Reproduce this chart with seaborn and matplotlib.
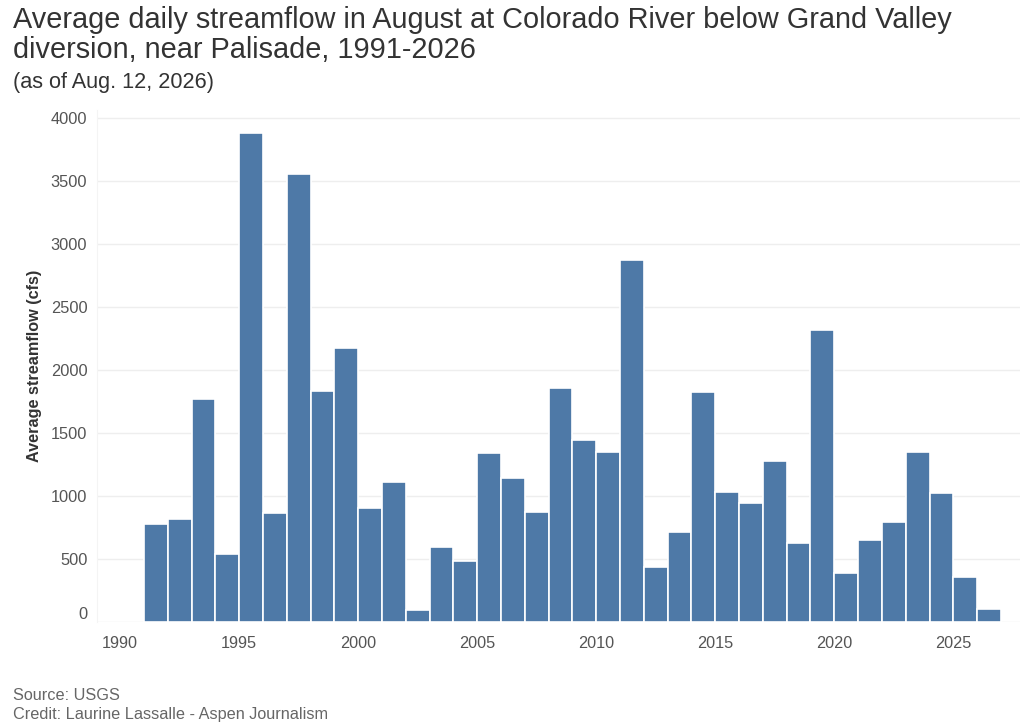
import pandas as pd
import matplotlib
matplotlib.use("Agg")
import matplotlib.pyplot as plt
import matplotlib.transforms as mtransforms
import seaborn as sns

# August average daily streamflow (cfs)
years = list(range(1991, 2027))
streamflow = [
    779, 813, 1771, 538, 3881, 864, 3555, 1833, 2173, 901,
    1113, 95, 595, 482, 1337, 1142, 875, 1856, 1445, 1346,
    2870, 439, 714, 1824, 1028, 943, 1280, 626, 2314, 388,
    649, 790, 1346, 1020, 354, 105,
]
x_ticks = [1990, 1995, 2000, 2005, 2010, 2015, 2020, 2025]
y_ticks = [0, 500, 1000, 1500, 2000, 2500, 3000, 3500, 4000]

df = pd.DataFrame({'year': years, 'flow': streamflow})

sns.set_style("white")
plt.rcParams['font.family'] = ['Liberation Sans', 'DejaVu Sans']

W, H = 1024, 726
fig = plt.figure(figsize=(W / 100, H / 100), dpi=100)

# axes box in pixel terms
left, right, top, bottom = 97, 1020, 110, 622
ax = fig.add_axes([left / W, 1 - bottom / H, (right - left) / W, (bottom - top) / H])

# each year's bar spans [year, year + 1]
sns.histplot(data=df, x='year', weights='flow', binwidth=1,
             binrange=(years[0], years[-1] + 1),
             color='#4e79a7', edgecolor='white', linewidth=1.2, alpha=1,
             ax=ax)

ax.set_xlim(1989.03, 2027.8)
ax.set_ylim(0, 4060)
ax.set_xticks(x_ticks)
ax.set_yticks(y_ticks)
ax.grid(axis='y', color='#eeeeee', linewidth=1)
ax.set_axisbelow(True)
for s in ['top', 'right', 'bottom']:
    ax.spines[s].set_visible(False)
ax.spines['left'].set_color('#f4f4f4')

ax.tick_params(axis='x', length=5, width=0.8, color='#e6e6e6', pad=5,
               labelsize=11.7, labelcolor='#555555')
ax.tick_params(axis='y', length=4, width=1, color='#eeeeee', pad=3,
               labelsize=11.8, labelcolor='#555555')

# the zero label sits a little above the baseline
zero_lbl = ax.get_yticklabels()[0]
zero_lbl.set_transform(zero_lbl.get_transform() +
                       mtransforms.ScaledTranslation(0, 9 / 100, fig.dpi_scale_trans))

ax.set_xlabel('')
ax.set_ylabel('Average streamflow (cfs)', fontsize=11.7, fontweight='bold',
              color='#333333', labelpad=6)

title_lines = ['Average daily streamflow in August at Colorado River below Grand Valley',
               'diversion, near Palisade, 1991-2026']
for txt, base in zip(title_lines, [27.5, 58.5]):
    fig.text(13 / W, 1 - base / H, txt, ha='left', va='baseline',
             fontsize=20.75, color='#333333')
fig.text(13 / W, 1 - 88 / H, '(as of Aug. 12, 2026)', ha='left', va='baseline',
         fontsize=15.6, color='#333333')

fig.text(13 / W, 1 - 699.5 / H, 'Source: USGS', ha='left', va='baseline',
         fontsize=11.7, color='#666666')
fig.text(13 / W, 1 - 719 / H, 'Credit: Laurine Lassalle - Aspen Journalism',
         ha='left', va='baseline', fontsize=11.7, color='#666666')

fig.savefig('out.png', dpi=100)
